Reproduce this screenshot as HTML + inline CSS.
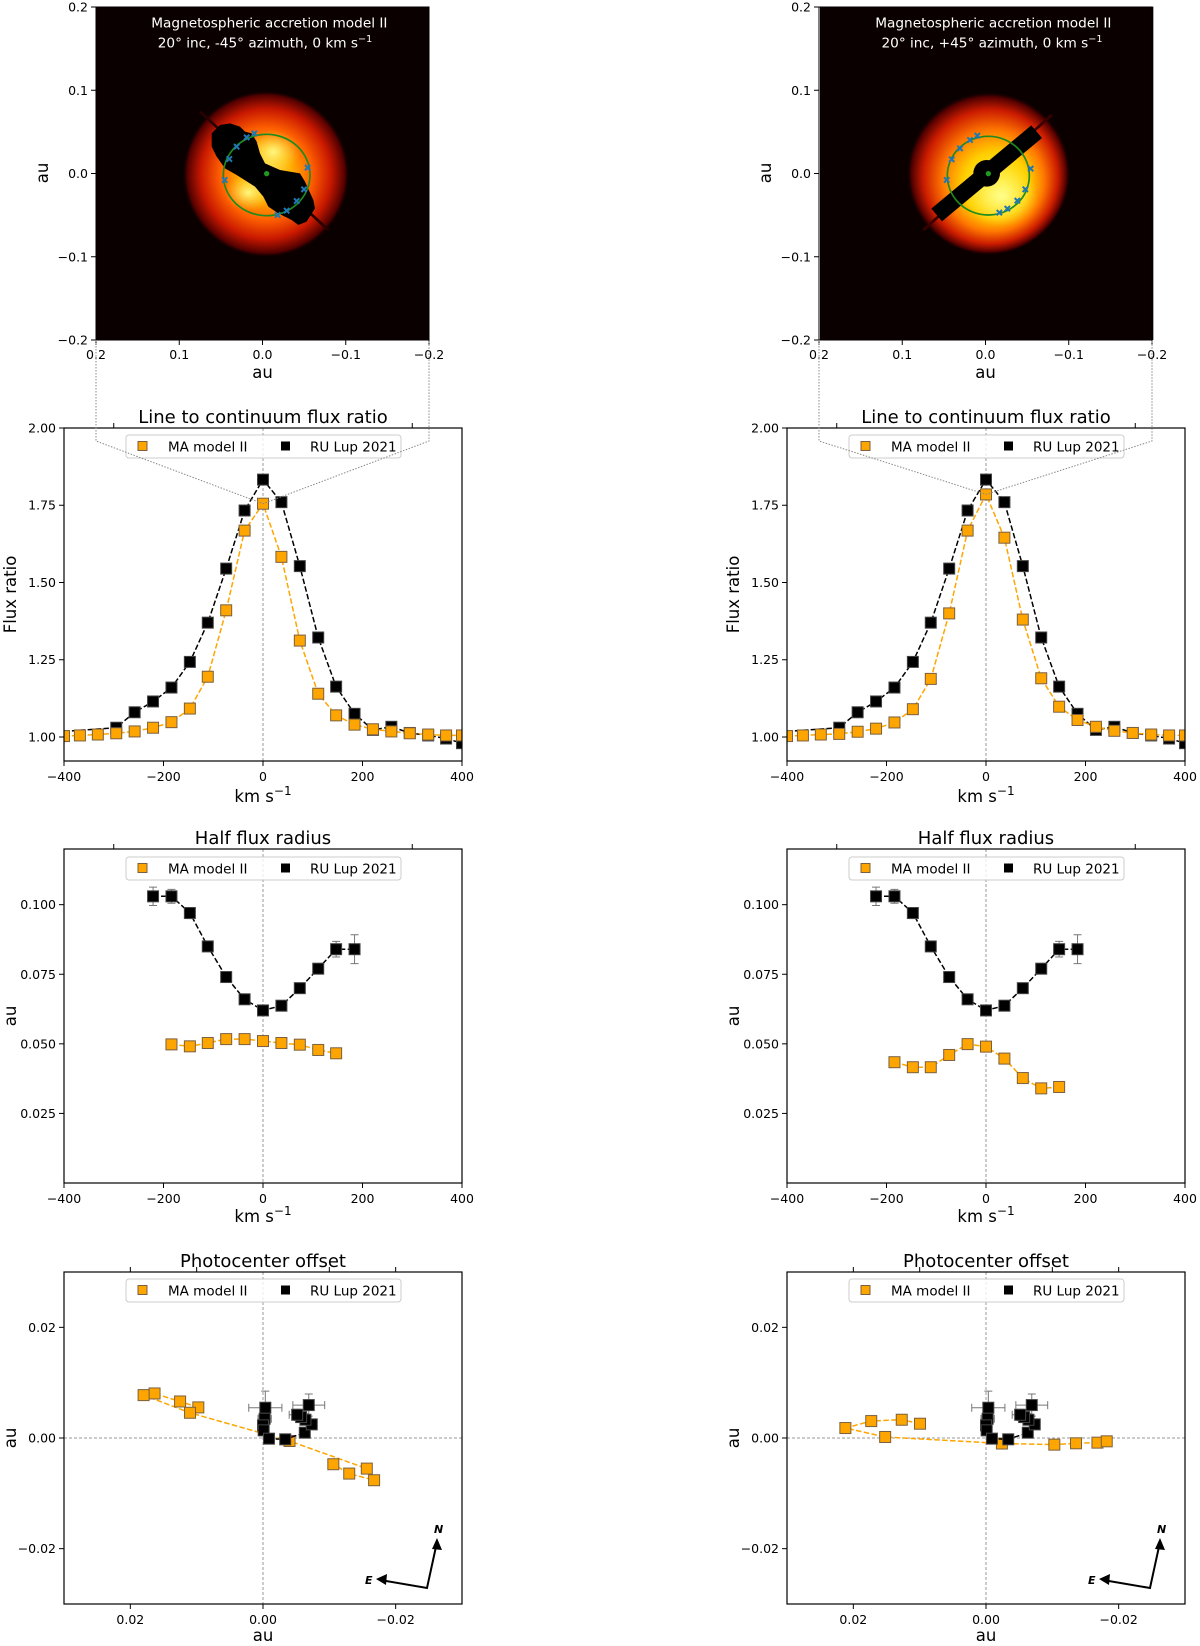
<!DOCTYPE html>
<html><head><meta charset="utf-8"><style>
html,body{margin:0;padding:0;background:#fff;}
svg{display:block;font-family:"DejaVu Sans","Liberation Sans",sans-serif;}
</style></head><body>
<svg id="fig" width="1200" height="1646" viewBox="0 0 1200 1646" xmlns="http://www.w3.org/2000/svg">
<defs>
<radialGradient id="diskL" cx="0.5" cy="0.5" r="0.5">
<stop offset="0" stop-color="#ffe860"/><stop offset="0.3" stop-color="#ffb000"/><stop offset="0.55" stop-color="#ff6000"/><stop offset="0.78" stop-color="#c81800"/><stop offset="0.95" stop-color="#500000"/><stop offset="1" stop-color="#0b0000" stop-opacity="0"/>
</radialGradient>
<radialGradient id="diskR" cx="0.5" cy="0.5" r="0.5" fx="0.58" fy="0.62">
<stop offset="0" stop-color="#ffff60"/><stop offset="0.4" stop-color="#ffd000"/><stop offset="0.62" stop-color="#ff7800"/><stop offset="0.82" stop-color="#cc1c00"/><stop offset="0.95" stop-color="#500000"/><stop offset="1" stop-color="#0b0000" stop-opacity="0"/>
</radialGradient>
<radialGradient id="lobe" cx="0.5" cy="0.5" r="0.5">
<stop offset="0" stop-color="#ffff90" stop-opacity="0.9"/><stop offset="1" stop-color="#ffe040" stop-opacity="0"/>
</radialGradient>
<clipPath id="imgclip"><rect x="108" y="20" width="1000" height="1000"/></clipPath>
<clipPath id="imgclipR"><rect x="120" y="20" width="1000" height="1000"/></clipPath>
</defs>

<g transform="translate(60,0) scale(0.33333)">
<rect x="108" y="20" width="1000" height="1000" fill="#0b0000"/>
<g clip-path="url(#imgclip)">
<circle cx="618" cy="522" r="250" fill="url(#diskL)"/>
<ellipse cx="640" cy="455" rx="80" ry="65" fill="url(#lobe)"/>
<ellipse cx="565" cy="578" rx="70" ry="55" fill="url(#lobe)"/>
<line x1="420" y1="335" x2="805" y2="690" stroke="#2a0000" stroke-width="8"/>
<polygon fill="#000" points="455,400 480,375 510,370 540,380 555,395 575,400 590,425 600,460 615,490 660,510 720,520 735,545 760,600 765,625 740,665 715,675 695,660 655,640 625,620 610,590 585,560 530,525 495,505 470,470 455,440"/>
<ellipse cx="620" cy="525" rx="130" ry="122" fill="none" stroke="#1f8a1f" stroke-width="5"/>
<g stroke="#1f77b4" stroke-width="6">
<path d="M575,392l16,16M591,392l-16,16 M552,404l16,16M568,404l-16,16 M522,432l16,16M538,432l-16,16 M500,469l16,16M516,469l-16,16 M486,532l16,16M502,532l-16,16 M735,495l16,16M751,495l-16,16 M724,560l16,16M740,560l-16,16 M702,595l16,16M718,595l-16,16 M672,624l16,16M688,624l-16,16 M645,637l16,16M661,637l-16,16"/>
</g>
<circle cx="620" cy="521" r="8" fill="#1f9a1f"/>
</g>
<text x="628" y="82" fill="#fff" font-size="41" text-anchor="middle">Magnetospheric accretion model II</text>
<text x="615" y="142" fill="#fff" font-size="41" text-anchor="middle">20° inc,  -45° azimuth, 0 km s<tspan dy="-16" font-size="29">−1</tspan></text>
</g>

<g transform="translate(780,0) scale(0.33333)">
<rect x="120" y="20" width="1000" height="1000" fill="#0b0000"/>
<g clip-path="url(#imgclipR)">
<circle cx="625" cy="520" r="245" fill="url(#diskR)"/>
<ellipse cx="665" cy="590" rx="110" ry="90" fill="url(#lobe)"/>
<line x1="430" y1="690" x2="815" y2="345" stroke="#3a0000" stroke-width="8"/>
<polygon fill="#000" points="454,626 754,376 786,414 486,664"/>
<circle cx="620" cy="520" r="40" fill="#000"/>
<ellipse cx="625" cy="527" rx="123" ry="118" fill="none" stroke="#1f8a1f" stroke-width="5"/>
<g stroke="#1f77b4" stroke-width="6">
<path d="M584,399l16,16M600,399l-16,16 M562,412l16,16M578,412l-16,16 M532,437l16,16M548,437l-16,16 M507,470l16,16M523,470l-16,16 M492,532l16,16M508,532l-16,16 M744,498l16,16M760,498l-16,16 M728,560l16,16M744,560l-16,16 M704,594l16,16M720,594l-16,16 M674,618l16,16M690,618l-16,16 M650,630l16,16M666,630l-16,16"/>
</g>
<circle cx="625" cy="521" r="8" fill="#1f9a1f"/>
</g>
<text x="640" y="82" fill="#fff" font-size="41" text-anchor="middle">Magnetospheric accretion model II</text>
<text x="636" y="142" fill="#fff" font-size="41" text-anchor="middle">20° inc,  +45° azimuth, 0 km s<tspan dy="-16" font-size="29">−1</tspan></text>
</g>
<g id="plots"></g>
</svg>
<script>
const fluxVel = [-400,-368,-332,-295,-258,-221,-184,-147,-111,-74,-37,0,37,74,111,147,184,221,258,295,332,368,400];
const modelFluxLeft = [1.003,1.005,1.008,1.012,1.018,1.03,1.048,1.092,1.195,1.41,1.668,1.755,1.583,1.312,1.14,1.07,1.04,1.025,1.018,1.012,1.008,1.005,1.005];
const modelFluxRight = [1.003,1.005,1.008,1.01,1.017,1.027,1.047,1.09,1.188,1.40,1.668,1.785,1.645,1.38,1.19,1.098,1.055,1.033,1.02,1.013,1.008,1.005,1.005];
const obsVel = [-400,-295,-258,-221,-184,-147,-111,-74,-37,0,37,74,111,147,184,221,258,295,332,368,400];
const obsFlux = [1.018,1.03,1.08,1.115,1.16,1.243,1.37,1.545,1.733,1.833,1.76,1.553,1.322,1.163,1.075,1.023,1.033,1.013,1.005,0.995,0.98];

const hfObsVel = [-221,-184,-147,-111,-74,-37,0,37,74,111,147,184];
const hfObs = [0.103,0.103,0.097,0.085,0.074,0.066,0.062,0.0637,0.070,0.077,0.084,0.084];
const hfObsErr = [0.0033,0.0025,0.002,0.0015,0.001,0.001,0.001,0.001,0.001,0.0015,0.0028,0.0052];
const hfModelVel = [-184,-147,-111,-74,-37,0,37,74,111,147];
const hfModelLeft = [0.0498,0.0491,0.0503,0.0517,0.0517,0.051,0.0503,0.0497,0.0478,0.0466];
const hfModelRight = [0.0434,0.0416,0.0416,0.046,0.0499,0.049,0.0447,0.0377,0.034,0.0345];

const pcObsX = [-0.00035,-0.00025,0,-0.0001,-0.0009,-0.00335,-0.0063,-0.00735,-0.0064,-0.00575,-0.00515,-0.0069];
const pcObsY = [0.00547,0.00348,0.00228,0.00138,-0.00012,-0.00024,0.00096,0.00246,0.0033,0.00378,0.0042,0.00595];
const pcObsErrX = [0.0025,0.001,0.0006,0.0005,0.0004,0.0004,0.0005,0.0006,0.0008,0.001,0.0012,0.0024];
const pcObsErrY = [0.003,0.0012,0.0008,0.0005,0.0003,0.0003,0.0004,0.0005,0.0006,0.0008,0.001,0.002];
const pcModelLeftX = [0.00975,0.0125,0.01635,0.018,0.011,-0.004,-0.01565,-0.01675,-0.013,-0.0106];
const pcModelLeftY = [0.00553,0.0066,0.00805,0.00775,0.00456,-0.00054,-0.00553,-0.00763,-0.00643,-0.00474];
const pcModelRightX = [0.00995,0.0127,0.0173,0.0212,0.0152,-0.0024,-0.0103,-0.01357,-0.0168,-0.0182];
const pcModelRightY = [0.00258,0.0033,0.00306,0.0018,0.00018,-0.001,-0.0012,-0.00096,-0.00084,-0.0006];

const fluxYTicks = [1.00,1.25,1.50,1.75,2.00];
const fluxYLabels = ["1.00","1.25","1.50","1.75","2.00"];
const velTicks = [-400,-200,0,200,400];
const velLabels = ["−400","−200","0","200","400"];
const hfYTicks = [0.025,0.05,0.075,0.1];
const hfYLabels = ["0.025","0.050","0.075","0.100"];
const pcTicks = [0.02,0,-0.02];
const pcLabels = ["0.02","0.00","−0.02"];
const imgTicks = [0.2,0.1,0,-0.1,-0.2];
const imgLabels = ["0.2","0.1","0.0","−0.1","−0.2"];

const NS = "http://www.w3.org/2000/svg";
const root = document.getElementById("plots");
function mk(tag, attrs, parent){
  const e = document.createElementNS(NS, tag);
  for (const k in attrs) e.setAttribute(k, attrs[k]);
  (parent||root).appendChild(e);
  return e;
}
function txt(s, attrs, parent){ const t = mk("text", attrs, parent); t.textContent = s; return t; }
function sx(p,v){ return p.x0 + (v-p.xmin)/(p.xmax-p.xmin)*(p.x1-p.x0); }
function sy(p,v){ return p.y1 - (v-p.ymin)/(p.ymax-p.ymin)*(p.y1-p.y0); }

let clipId = 0;
function axes(p, title, xlab, ylab, xt, xl, yt, yl, topTicks){
  const g = mk("g", {});
  
  
  p.g = g;
  const cid = "c" + (clipId++);
  const cp = mk("clipPath", {id: cid}, g);
  mk("rect", {x:p.x0, y:p.y0, width:p.x1-p.x0, height:p.y1-p.y0}, cp);
  p.clip = "url(#"+cid+")";
  xt.forEach((v,i)=>{
    const x = sx(p,v);
    const tk = mk("line", {x1:x, x2:x, y1:p.y1, y2:p.y1+5, stroke:"#000", "stroke-width":1}, g);
    
    
    const lb = txt(xl[i], {x:x, y:p.y1+20, "font-size":12.5, "text-anchor":"middle"}, g);
    
    
  });
  (topTicks||[]).forEach(v=>{
    const x = sx(p,v);
    mk("line", {x1:x, x2:x, y1:p.y0, y2:p.y0-5, stroke:"#000", "stroke-width":1}, g);
  });
  yt.forEach((v,i)=>{
    const y = sy(p,v);
    const tk = mk("line", {x1:p.x0-5, x2:p.x0, y1:y, y2:y, stroke:"#000", "stroke-width":1}, g);
    
    
    const lb = txt(yl[i], {x:p.x0-8, y:y+4.5, "font-size":12.5, "text-anchor":"end"}, g);
    
    
  });
  const t = txt(title, {x:(p.x0+p.x1)/2, y:p.y0-5, "font-size":18, "text-anchor":"middle"}, g);
  
  
  const xlb = mk("text", {x:(p.x0+p.x1)/2, y:p.xlabY, "font-size":16.5, "text-anchor":"middle"}, g);
  xlb.innerHTML = xlab;
  
  
  const ylb = txt(ylab, {x:0, y:0, "font-size":16.5, "text-anchor":"middle", transform:"translate("+(p.x0-48)+","+((p.y0+p.y1)/2)+") rotate(-90)"}, g);
  
  
}
function frame(p){
  const f = mk("rect", {x:p.x0, y:p.y0, width:p.x1-p.x0, height:p.y1-p.y0, fill:"none", stroke:"#000", "stroke-width":1.2}, p.g);
  
  
}
function zeroLines(p, vert, horiz){
  if (vert){ const x = sx(p,0); mk("line", {x1:x,x2:x,y1:p.y0,y2:p.y1,stroke:"#999","stroke-width":1,"stroke-dasharray":"3,2"}, p.g); }
  if (horiz){ const y = sy(p,0); mk("line", {x1:p.x0,x2:p.x1,y1:y,y2:y,stroke:"#999","stroke-width":1,"stroke-dasharray":"3,2"}, p.g); }
}
function series(p, xs, ys, color, name, errX, errY, skipFirstMarker){
  const g = mk("g", {"clip-path": p.clip}, p.g);
  
  
  let d = "";
  xs.forEach((v,i)=>{ d += (i?"L":"M") + sx(p,v).toFixed(1) + "," + sy(p,ys[i]).toFixed(1); });
  mk("path", {d:d, fill:"none", stroke:color, "stroke-width":1.5, "stroke-dasharray":"5.5,2.4"}, g);
  xs.forEach((v,i)=>{
    const x = sx(p,v), y = sy(p,ys[i]);
    if (errY){
      const ya = sy(p, ys[i]+errY[i]), yb = sy(p, ys[i]-errY[i]);
      mk("path", {d:"M"+x+","+ya+"V"+yb+"M"+(x-4)+","+ya+"h8M"+(x-4)+","+yb+"h8", stroke:"#777", "stroke-width":1, fill:"none"}, g);
    }
    if (errX){
      const xa = sx(p, v+errX[i]), xb = sx(p, v-errX[i]);
      mk("path", {d:"M"+xa+","+y+"H"+xb+"M"+xa+","+(y-4)+"v8M"+xb+","+(y-4)+"v8", stroke:"#777", "stroke-width":1, fill:"none"}, g);
    }
  });
  xs.forEach((v,i)=>{
    if (skipFirstMarker && i===0) return;
    const x = sx(p,v), y = sy(p,ys[i]);
    const m = mk("rect", {x:x-5.5, y:y-5.5, width:11, height:11, fill:color, stroke: color==="#000" ? "#444" : "#7a6040", "stroke-width":1}, g);
    
    
  });
}
function legend(p, ly){
  const cx = (p.x0+p.x1)/2;
  const g = mk("g", {}, p.g);
  
  
  mk("rect", {x:cx-137, y:ly, width:275, height:23, rx:3, fill:"#fff", "fill-opacity":0.8, stroke:"#ccc"}, g);
  const a = mk("rect", {x:cx-125, y:ly+6.5, width:9, height:9, fill:"#ffa500", stroke:"#7a6040"}, g);
  
  
  txt("MA model II", {x:cx-95, y:ly+16.5, "font-size":13.5}, g);
  const b = mk("rect", {x:cx+18, y:ly+6.5, width:9, height:9, fill:"#000"}, g);
  
  
  txt("RU Lup 2021", {x:cx+47, y:ly+16.5, "font-size":13.5}, g);
}
const KMS = 'km s<tspan dy="-7" font-size="12">−1</tspan>';

[0,723].forEach((off, ci)=>{
  const side = ci ? "right" : "left";
  const ip = {x0:96+off, x1:429+off, y0:7, y1:340, xmin:0.2, xmax:-0.2, ymin:-0.2, ymax:0.2};
  const ig = mk("g", {});
  
  
  mk("rect", {x:ip.x0, y:ip.y0, width:333, height:333, fill:"none", stroke:"#000", "stroke-width":1}, ig);
  imgTicks.forEach((v,i)=>{
    const x = sx(ip,v), y = sy(ip,v);
    mk("line", {x1:x,x2:x,y1:ip.y1,y2:ip.y1+5,stroke:"#000"}, ig);
    txt(imgLabels[i], {x:x, y:ip.y1+19, "font-size":12.5, "text-anchor":"middle"}, ig);
    mk("line", {x1:ip.x0-5,x2:ip.x0,y1:y,y2:y,stroke:"#000"}, ig);
    txt(imgLabels[i], {x:ip.x0-8, y:y+4.5, "font-size":12.5, "text-anchor":"end"}, ig);
  });
  txt("au", {x:(ip.x0+ip.x1)/2, y:378, "font-size":16.5, "text-anchor":"middle"}, ig);
  txt("au", {x:0, y:0, "font-size":16.5, "text-anchor":"middle", transform:"translate("+(ip.x0-48)+",173) rotate(-90)"}, ig);

  const fp = {name:"flux-ratio-plot-"+side, x0:64+off, x1:462+off, y0:428, y1:761, xmin:-400, xmax:400, ymin:0.9223, ymax:2.0, xlabY:802};
  axes(fp, "Line to continuum flux ratio", KMS, "Flux ratio", velTicks, velLabels, fluxYTicks, fluxYLabels, [-300,300]);
  zeroLines(fp, true, false);
  const mf = ci ? modelFluxRight : modelFluxLeft;
  const peak = Math.max(...mf);
  const px = sx(fp,0), py = sy(fp,peak);
  const conn = mk("path", {d:"M"+ip.x0+","+ip.y1+"V441L"+px+","+py+"L"+ip.x1+",441V"+ip.y1, fill:"none", stroke:"#888", "stroke-width":1, "stroke-dasharray":"1.5,1.5"});
  
  
  legend(fp, 435);
  series(fp, obsVel, obsFlux, "#000", "series-ru-lup-flux", null, null, true);
  series(fp, fluxVel, mf, "#ffa500", "series-model-flux");
  frame(fp);

  const hp = {name:"half-flux-radius-plot-"+side, x0:64+off, x1:462+off, y0:849, y1:1183, xmin:-400, xmax:400, ymin:0, ymax:0.12, xlabY:1222};
  axes(hp, "Half flux radius", KMS, "au", velTicks, velLabels, hfYTicks, hfYLabels, [-300,300]);
  zeroLines(hp, true, false);
  legend(hp, 857);
  series(hp, hfObsVel, hfObs, "#000", "series-ru-lup-radius", null, hfObsErr);
  series(hp, hfModelVel, ci ? hfModelRight : hfModelLeft, "#ffa500", "series-model-radius");
  frame(hp);

  const pp = {name:"photocenter-plot-"+side, x0:64+off, x1:462+off, y0:1272, y1:1604, xmin:0.03, xmax:-0.03, ymin:-0.03, ymax:0.03, xlabY:1641};
  axes(pp, "Photocenter offset", "au", "au", pcTicks, pcLabels, pcTicks, pcLabels, [0.02,0.01,-0.01,-0.02]);
  zeroLines(pp, true, true);
  legend(pp, 1279);
  series(pp, ci ? pcModelRightX : pcModelLeftX, ci ? pcModelRightY : pcModelLeftY, "#ffa500", "series-model-photocenter");
  series(pp, pcObsX, pcObsY, "#000", "series-ru-lup-photocenter", pcObsErrX, pcObsErrY);
  frame(pp);
  const cg = mk("g", {});
  
  
  const ox = 427+off, oy = 1588;
  mk("path", {d:"M"+(380+off)+",1580L"+ox+","+oy+"L"+(437+off)+",1542", fill:"none", stroke:"#000", "stroke-width":2}, cg);
  mk("polygon", {points:(437+off)+",1538 "+(432+off)+",1549 "+(442+off)+",1550", fill:"#000"}, cg);
  mk("polygon", {points:(376+off)+",1579 "+(387+off)+",1574 "+(386+off)+",1585", fill:"#000"}, cg);
  txt("N", {x:434+off, y:1533, "font-size":11, "font-style":"italic", "font-weight":"bold"}, cg);
  txt("E", {x:365+off, y:1584, "font-size":11, "font-style":"italic", "font-weight":"bold"}, cg);
});
</script>
</body></html>
